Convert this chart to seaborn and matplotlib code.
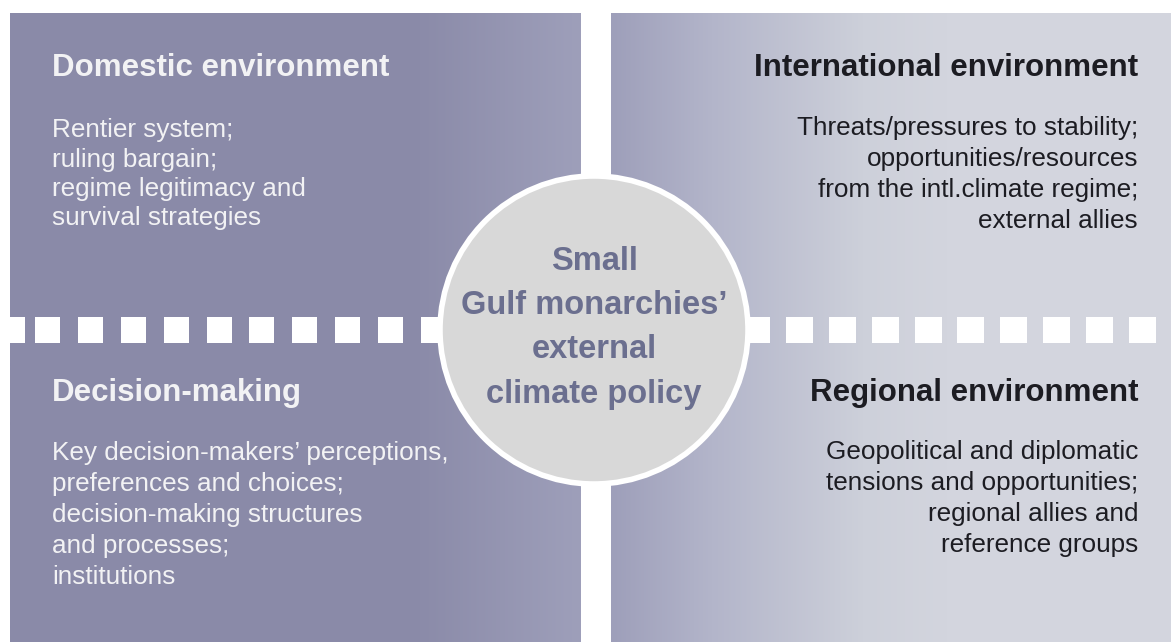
import numpy as np
import seaborn as sns
import matplotlib.pyplot as plt
from matplotlib.colors import LinearSegmentedColormap
from matplotlib.patches import Rectangle, Circle

sns.set_theme(style="white")
plt.rcParams['font.family'] = ['Liberation Sans', 'DejaVu Sans']

# quadrant texts
titles = ["Domestic environment", "International environment",
          "Decision-making", "Regional environment"]
bodies = [
    ["Rentier system;", "ruling bargain;", "regime legitimacy and", "survival strategies"],
    ["Threats/pressures to stability;", "opportunities/resources",
     "from the intl.climate regime;", "external allies"],
    ["Key decision-makers\u2019 perceptions,", "preferences and choices;",
     "decision-making structures", "and processes;", "institutions"],
    ["Geopolitical and diplomatic", "tensions and opportunities;",
     "regional allies and", "reference groups"],
]
center_lines = ["Small", "Gulf monarchies\u2019", "external", "climate policy"]

W, H = 1171, 642
fig = plt.figure(figsize=(W / 100, H / 100), dpi=100)
ax = fig.add_axes([0, 0, 1, 1])
ax.set_xlim(0, W)
ax.set_ylim(H, 0)
ax.axis("off")

# left panel: flat slate with a slight lightening towards the gap
left_cmap = LinearSegmentedColormap.from_list(
    "left", [(0, "#8a8aa8"), (0.72, "#8b8ba9"), (1, "#9e9fba")])
grad = np.linspace(0, 1, 256)[None, :]
ax.imshow(grad, cmap=left_cmap, extent=[10, 581, H, 13], aspect="auto", zorder=1)

# right panel: darker at the gap, fading to pale grey-blue
right_cmap = LinearSegmentedColormap.from_list(
    "right", [(0, "#9e9fba"), (0.18, "#b3b5ca"), (0.45, "#cdd0da"), (0.6, "#d3d5de"), (1, "#d4d6df")])
ax.imshow(grad, cmap=right_cmap, extent=[611, W, H, 13], aspect="auto", zorder=1)

# dashed white band
for k, x0 in enumerate(np.arange(-8, 440, 42.9)):
    x_a, x_b = max(x0, 10), x0 + 25
    if k == 0:
        x_b = 25
    ax.add_patch(Rectangle((x_a, 317), x_b - x_a, 26, color="white", lw=0, zorder=2))
for x0 in np.arange(743, W, 42.9):
    ax.add_patch(Rectangle((x0, 317), 27, 26, color="white", lw=0, zorder=2))

# centre circle
ax.add_patch(Circle((594, 330), 154, facecolor="#d8d8d8", edgecolor="white", lw=4, zorder=3))

title_kw = dict(fontsize=22.5, fontweight="bold", va="center", zorder=4)
body_kw = dict(fontsize=18.8, va="center", zorder=4)

# top-left
ax.text(52, 68, titles[0], color="#f2f2f4", ha="left", **title_kw)
for i, line in enumerate(bodies[0]):
    ax.text(52, 130 + i * 29.5, line, color="#f2f2f4", ha="left", **body_kw)

# top-right
ax.text(1138, 68, titles[1], color="#1c1c22", ha="right", **title_kw)
for i, line in enumerate(bodies[1]):
    ax.text(1138, 128 + i * 31, line, color="#1c1c22", ha="right", **body_kw)

# bottom-left
ax.text(52, 393, titles[2], color="#f2f2f4", ha="left", **title_kw)
for i, line in enumerate(bodies[2]):
    ax.text(52, 453 + i * 31, line, color="#f2f2f4", ha="left", **body_kw)

# bottom-right
ax.text(1138, 393, titles[3], color="#1c1c22", ha="right", **title_kw)
for i, line in enumerate(bodies[3]):
    ax.text(1138, 452 + i * 31, line, color="#1c1c22", ha="right", **body_kw)

# centre label
for i, line in enumerate(center_lines):
    ax.text(594, 261 + i * 44.5, line, color="#6b6f8f", ha="center", va="center",
            fontsize=23.5, fontweight="bold", zorder=4)

fig.savefig("out.png", dpi=100)
